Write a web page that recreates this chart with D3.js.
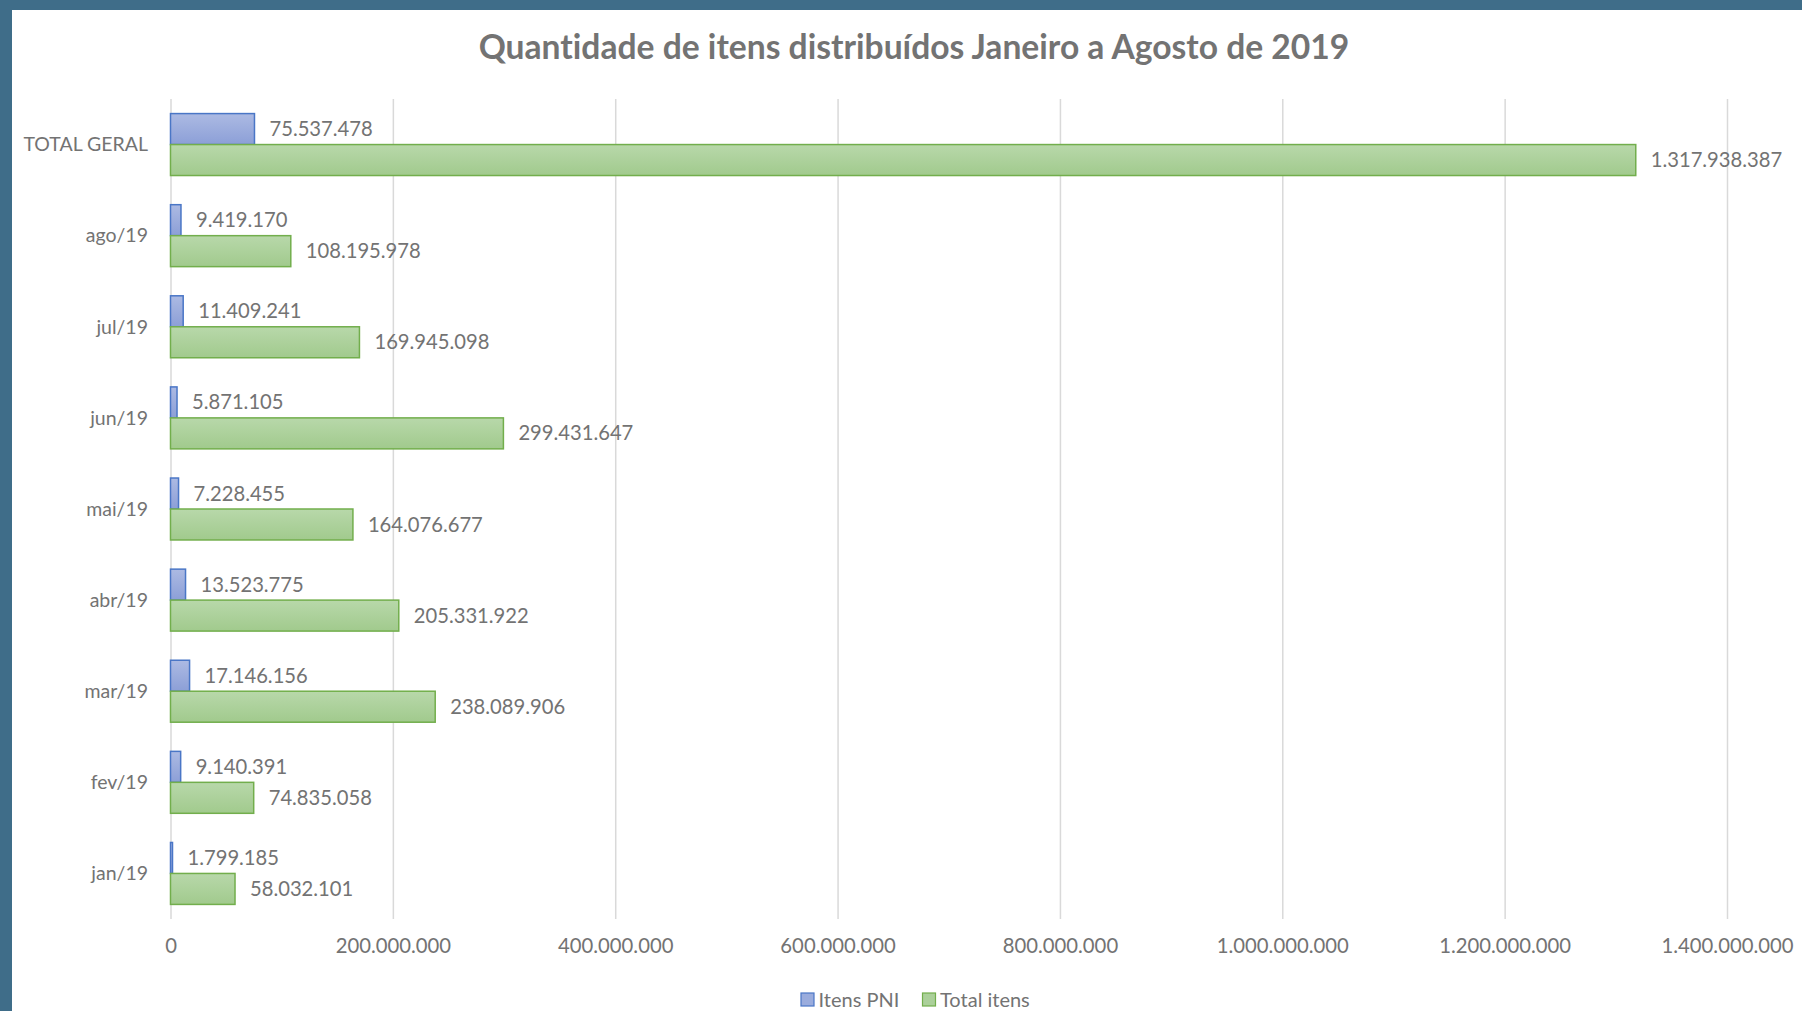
<!DOCTYPE html>
<html>
<head>
<meta charset="utf-8">
<script src="https://cdn.jsdelivr.net/npm/d3@7"></script>
<style>
  html, body { margin: 0; padding: 0; background: #3f6d89; }
  svg { display: block; }
  text { font-variant-ligatures: none; }
</style>
</head>
<body>
<svg id="chart" width="1802" height="1011"></svg>
<script>
'use strict';

// Chart data, top category first (as drawn).
var categories = ['TOTAL GERAL', 'ago/19', 'jul/19', 'jun/19', 'mai/19', 'abr/19', 'mar/19', 'fev/19', 'jan/19'];
var itensPNI = [75537478, 9419170, 11409241, 5871105, 7228455, 13523775, 17146156, 9140391, 1799185];
var totalItens = [1317938387, 108195978, 169945098, 299431647, 164076677, 205331922, 238089906, 74835058, 58032101];
var seriesNames = ['Itens PNI', 'Total itens'];
var xTicks = [0, 200000000, 400000000, 600000000, 800000000, 1000000000, 1200000000, 1400000000];

var W = 1802, H = 1011;
var plot = {left: 170.5, right: 1727, top: 99, bottom: 919};
var font = 'Lato, "Open Sans", sans-serif';
var textGray = '#737373';

var locale = d3.formatLocale({decimal: ',', thousands: '.', grouping: [3], currency: ['R$', '']});
var fmt = locale.format(',d');

var svg = d3.select('#chart');

// Frame: teal border on top and left, white card.
svg.append('rect')
    .attr('x', 0).attr('y', 0).attr('width', W).attr('height', H)
    .attr('fill', '#3f6d89');
svg.append('rect')
    .attr('x', 12).attr('y', 10).attr('width', W - 12).attr('height', H - 10)
    .attr('fill', '#ffffff');

// Gradients for the bar fills.
var defs = svg.append('defs');
function addGradient(id, top, bottom) {
    var g = defs.append('linearGradient')
        .attr('id', id)
        .attr('x1', 0).attr('y1', 0).attr('x2', 0).attr('y2', 1);
    g.append('stop').attr('offset', '0%').attr('stop-color', top);
    g.append('stop').attr('offset', '100%').attr('stop-color', bottom);
}
addGradient('gradBlue', '#acbae3', '#8c9fd7');
addGradient('gradGreen', '#b8d8aa', '#a1ca8d');

var fills = ['url(#gradBlue)', 'url(#gradGreen)'];
var strokes = ['#4a76c6', '#72ae4c'];
var legendFills = ['#9aacdd', '#abd09a'];

var x = d3.scaleLinear()
    .domain([0, 1400000000])
    .range([plot.left, plot.right]);

var y = d3.scaleBand()
    .domain(categories)
    .range([plot.top, plot.bottom])
    .padding(0);

var barH = y.bandwidth() * 0.34;
var ySeries = d3.scaleBand()
    .domain(seriesNames)
    .range([0, barH * 2])
    .padding(0);
var groupOffset = (y.bandwidth() - barH * 2) / 2;

// Title.
var title = svg.append('text')
    .attr('x', 914)
    .attr('y', 59)
    .attr('text-anchor', 'middle')
    .attr('font-family', font)
    .attr('font-weight', 700)
    .attr('font-size', 26)
    .attr('fill', '#737373')
    .text('Quantidade de itens distribuídos Janeiro a Agosto de 2019');
// stretch title font to the width seen in the picture
var tw = title.node().getComputedTextLength();
title.attr('font-size', 26 * 871 / tw);

// Vertical gridlines (tick marks drawn up the plot height).
var grid = svg.append('g')
    .attr('transform', 'translate(0,' + plot.bottom + ')')
    .call(d3.axisBottom(x)
        .tickValues(xTicks)
        .tickSize(-(plot.bottom - plot.top))
        .tickFormat(''));
grid.select('.domain').remove();
grid.selectAll('line')
    .attr('stroke', '#d9d9d9')
    .attr('stroke-width', 1.5);

// Tick labels.
var axis = svg.append('g')
    .attr('transform', 'translate(0,' + plot.bottom + ')')
    .call(d3.axisBottom(x)
        .tickValues(xTicks)
        .tickSize(0)
        .tickPadding(20)
        .tickFormat(fmt));
axis.select('.domain').remove();
axis.selectAll('text')
    .attr('font-family', font)
    .attr('font-size', 20.3)
    .attr('fill', textGray);

// Category labels.
svg.append('g')
    .selectAll('text')
    .data(categories)
    .join('text')
    .attr('x', 148)
    .attr('y', function(d) { return y(d) + y.bandwidth() / 2; })
    .attr('dy', '0.35em')
    .attr('text-anchor', 'end')
    .attr('font-family', font)
    .attr('font-size', 19.5)
    .attr('fill', textGray)
    .text(function(d) { return d; });

// Bars and value labels.
var rows = categories.map(function(c, i) {
    return [
        {cat: c, series: seriesNames[0], value: itensPNI[i], s: 0},
        {cat: c, series: seriesNames[1], value: totalItens[i], s: 1}
    ];
});
var flat = [].concat.apply([], rows);

var bars = svg.append('g');
bars.selectAll('rect')
    .data(flat)
    .join('rect')
    .attr('x', x(0))
    .attr('y', function(d) { return y(d.cat) + groupOffset + ySeries(d.series); })
    .attr('width', function(d) { return Math.max(x(d.value) - x(0), 1); })
    .attr('height', ySeries.bandwidth())
    .attr('fill', function(d) { return fills[d.s]; })
    .attr('stroke', function(d) { return strokes[d.s]; })
    .attr('stroke-width', 1.5);

svg.append('g')
    .selectAll('text')
    .data(flat)
    .join('text')
    .attr('x', function(d) { return x(d.value) + 15; })
    .attr('y', function(d) { return y(d.cat) + groupOffset + ySeries(d.series) + ySeries.bandwidth() / 2; })
    .attr('dy', '0.35em')
    .attr('font-family', font)
    .attr('font-size', 20.2)
    .attr('fill', textGray)
    .text(function(d) { return fmt(d.value); });

// Legend.
var legendItems = [
    {name: seriesNames[0], x: 801, s: 0},
    {name: seriesNames[1], x: 922.5, s: 1}
];
var legend = svg.append('g').selectAll('g')
    .data(legendItems)
    .join('g')
    .attr('transform', function(d) { return 'translate(' + d.x + ',993)'; });
legend.append('rect')
    .attr('width', 13).attr('height', 13)
    .attr('fill', function(d) { return legendFills[d.s]; })
    .attr('stroke', function(d) { return strokes[d.s]; })
    .attr('stroke-width', 1.2);
legend.append('text')
    .attr('x', 17.5)
    .attr('y', 6.5)
    .attr('dy', '0.35em')
    .attr('font-family', font)
    .attr('font-size', 20)
    .attr('fill', textGray)
    .text(function(d) { return d.name; });
</script>
</body>
</html>
